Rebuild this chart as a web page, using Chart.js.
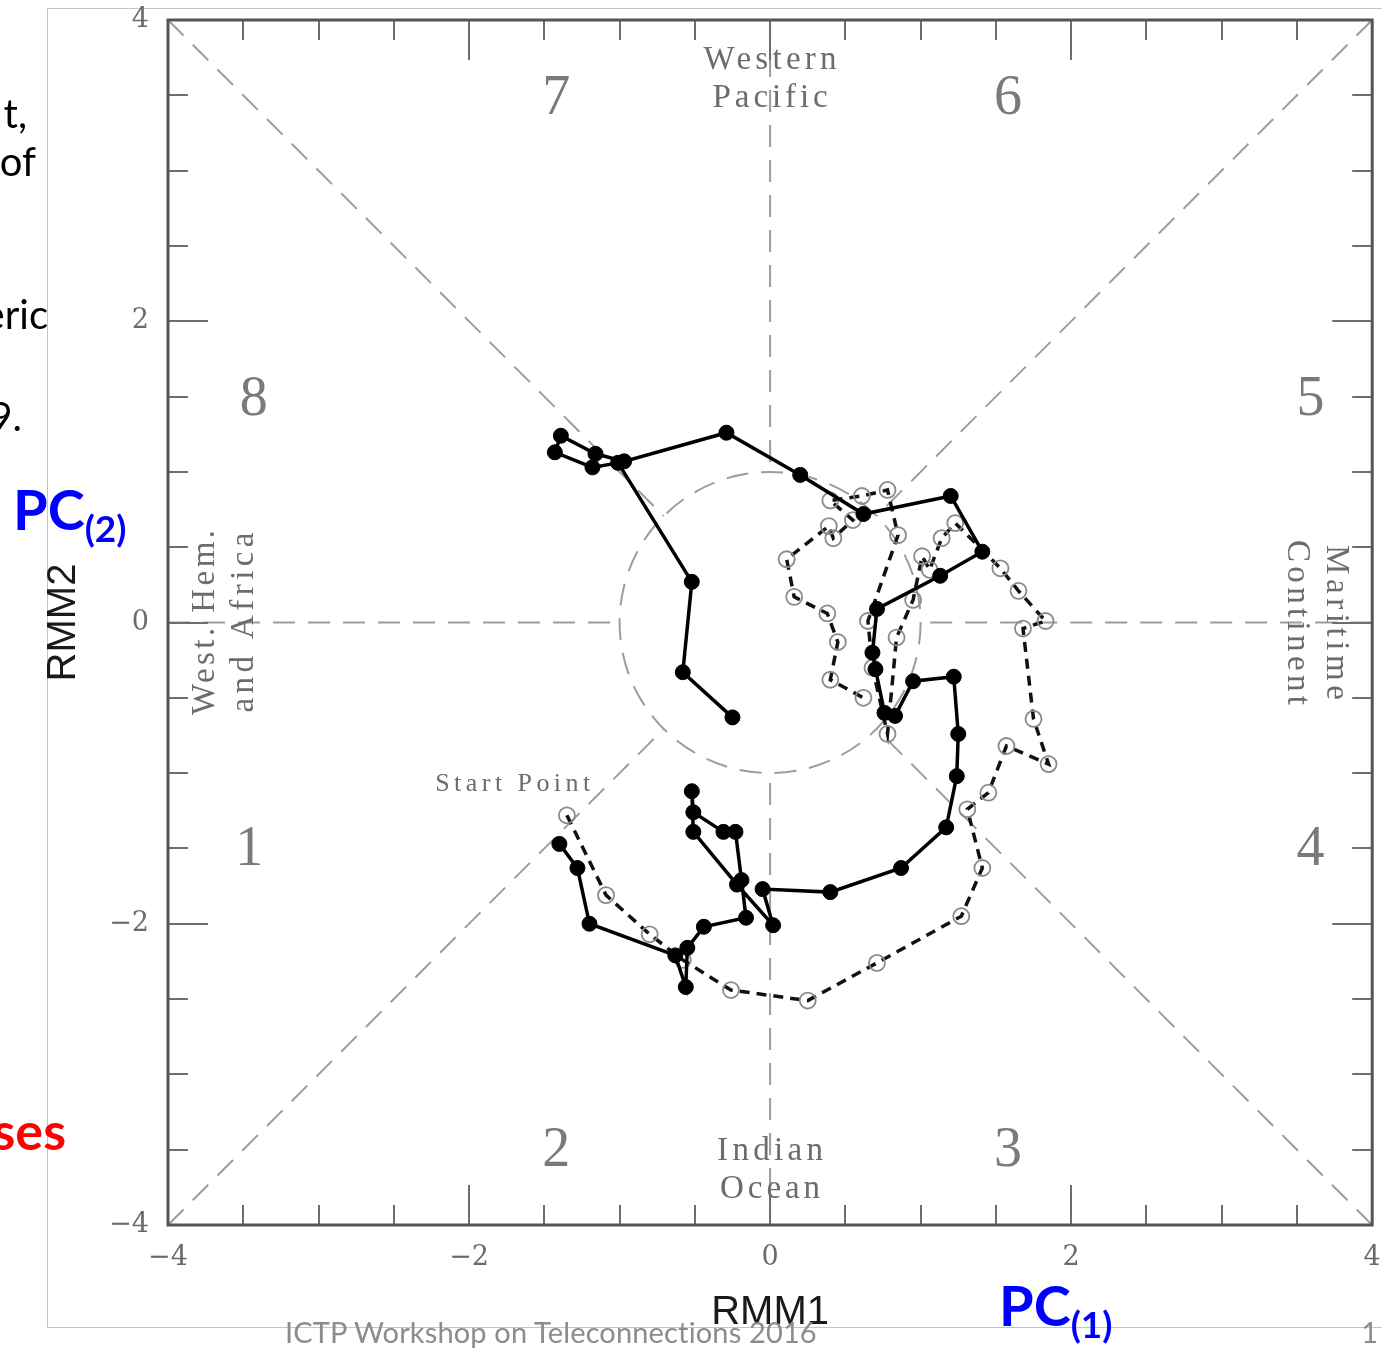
<!DOCTYPE html>
<html>
<head>
<meta charset="utf-8">
<script src="https://cdn.jsdelivr.net/npm/chart.js@4.4.1/dist/chart.umd.min.js"></script>
<style>
html,body{margin:0;padding:0;background:#fff;overflow:hidden;}
#wrap{position:relative;width:1382px;height:1350px;overflow:hidden;}
#frame{position:absolute;left:47px;top:8px;width:1400px;height:1320px;border:1px solid #c4c4c4;box-sizing:border-box;}
#c{position:absolute;left:0;top:0;}
.t{position:absolute;font-family:Lato,'Open Sans',sans-serif;white-space:nowrap;line-height:1;}
.b{font-weight:700;color:#0000ff;}
.b sub{font-size:0.66em;vertical-align:baseline;position:relative;top:0.32em;}
</style>
</head>
<body>
<div id="wrap">
  <div id="frame"></div>
  <canvas id="c" width="1382" height="1350"></canvas>
  <div class="t" style="right:1355px;top:93px;font-size:40px;color:#000;">t,</div>
  <div class="t" style="right:1346px;top:141px;font-size:40px;color:#000;">of</div>
  <div class="t" style="right:1334px;top:294px;font-size:40px;color:#000;">eric</div>
  <div class="t" style="right:1360px;top:396px;font-size:40px;color:#000;">9.</div>
  <div class="t b" style="left:13px;top:481px;font-size:56px;">PC<sub>(2)</sub></div>
  <div class="t" style="right:1316px;top:1104px;font-size:52px;color:#ff0000;font-weight:700;">ses</div>
  <div class="t b" style="left:999px;top:1277px;font-size:56px;">PC<sub>(1)</sub></div>
  <div class="t" style="left:285px;top:1317px;font-size:29px;color:#8c8c8c;letter-spacing:0.15px;">ICTP Workshop on Teleconnections 2016</div>
  <div class="t" style="right:4px;top:1317px;font-size:29px;color:#8c8c8c;">1</div>
</div>
<script>
// ---- data ----
const solidRMM1 = [-1.40,-1.28,-1.20,-0.63,-0.56,-0.55,-0.44,-0.16,-0.19,-0.23,-0.31,-0.51,-0.52,-0.51,-0.22,0.02,-0.05,0.40,0.87,1.17,1.24,1.25,1.22,0.95,0.83,0.76,0.70,0.68,0.71,1.13,1.41,1.20,0.62,0.20,-0.29,-0.97,-1.16,-1.39,-1.43,-1.18,-1.01,-0.52,-0.58,-0.25];
const solidRMM2 = [-1.47,-1.63,-2.00,-2.21,-2.42,-2.16,-2.02,-1.96,-1.71,-1.39,-1.39,-1.26,-1.12,-1.39,-1.74,-2.01,-1.77,-1.79,-1.63,-1.36,-1.02,-0.74,-0.36,-0.39,-0.62,-0.60,-0.31,-0.20,0.09,0.31,0.47,0.84,0.72,0.98,1.26,1.07,1.12,1.24,1.13,1.03,1.06,0.27,-0.33,-0.63];
const dashRMM1 = [-1.35,-1.09,-0.80,-0.58,-0.26,0.25,0.71,1.27,1.41,1.31,1.45,1.57,1.85,1.75,1.68,1.83,1.65,1.53,1.23,1.14,1.06,1.01,0.95,0.84,0.78,0.68,0.65,0.85,0.78,0.61,0.40,0.55,0.42,0.39,0.11,0.16,0.38,0.45,0.40,0.62];
const dashRMM2 = [-1.28,-1.81,-2.07,-2.24,-2.44,-2.51,-2.26,-1.95,-1.63,-1.24,-1.13,-0.82,-0.94,-0.64,-0.04,0.01,0.21,0.36,0.66,0.56,0.35,0.44,0.15,-0.10,-0.74,-0.30,0.01,0.58,0.88,0.84,0.81,0.68,0.56,0.64,0.42,0.17,0.06,-0.13,-0.38,-0.50];
const tickValues = [-4,-2,0,2,4];
const tickLabels = ['\u22124','\u22122','0','2','4'];
const phaseNames = ['1','2','3','4','5','6','7','8'];
const regionNames = [['Western','Pacific'],['Indian','Ocean'],['West. Hem.','and Africa'],['Maritime','Continent']];
const startLabel = 'Start Point';
const axisTitles = ['RMM1','RMM2'];

const toPts = (xs, ys) => xs.map((v,i)=>({x:v, y:ys[i]}));

function fitText(ctx, str, x, y, width, rot){
  ctx.save();
  ctx.translate(x,y); ctx.rotate(rot||0);
  ctx.letterSpacing = '0px';
  const w0 = ctx.measureText(str).width;
  const ls = (width - w0) / Math.max(1, str.length - 1);
  ctx.letterSpacing = ls + 'px';
  ctx.textAlign = 'left'; ctx.textBaseline = 'middle';
  ctx.fillText(str, -width/2, 0);
  ctx.restore();
}

const decor = {
  id:'decor',
  beforeDatasetsDraw(chart){
    const {ctx, scales:{x,y}} = chart;
    const px = v => x.getPixelForValue(v), py = v => y.getPixelForValue(v);
    ctx.save();
    ctx.strokeStyle = '#9c9c9c'; ctx.lineWidth = 2; ctx.setLineDash([22,13]);
    const cx = px(0), cy = py(0), r = px(1) - px(0);
    ctx.beginPath(); ctx.arc(cx, cy, r, 0, Math.PI*2); ctx.stroke();
    const d = Math.SQRT1_2;
    const spokes = [[-4,0,-1,0],[4,0,1,0],[0,4,0,1],[0,-4,0,-1],[-4,4,-d,d],[4,4,d,d],[-4,-4,-d,-d],[4,-4,d,-d]];
    spokes.forEach(s=>{ ctx.beginPath(); ctx.moveTo(px(s[0]),py(s[1])); ctx.lineTo(px(s[2]),py(s[3])); ctx.stroke(); });
    ctx.setLineDash([]);
    ctx.fillStyle = '#7a7a7a';
    ctx.font = '56px "Liberation Serif"';
    ctx.textAlign = 'center'; ctx.textBaseline = 'middle';
    const phasePos = [[-3.46,-1.5],[-1.42,-3.5],[1.58,-3.5],[3.59,-1.5],[3.59,1.49],[1.58,3.49],[-1.42,3.49],[-3.43,1.49]];
    phaseNames.forEach((p,i)=>{ ctx.fillText(p, px(phasePos[i][0]), py(phasePos[i][1])+2); });
    ctx.font = '33px "Liberation Serif"';
    ctx.fillStyle = '#6c6c6c';
    fitText(ctx, regionNames[0][0], px(0), py(3.735), 133, 0);
    fitText(ctx, regionNames[0][1], px(0), py(3.48), 115, 0);
    fitText(ctx, regionNames[1][0], px(0), py(-3.51), 106, 0);
    fitText(ctx, regionNames[1][1], px(0), py(-3.765), 100, 0);
    fitText(ctx, regionNames[2][0], px(-3.75), py(0), 185, -Math.PI/2);
    fitText(ctx, regionNames[2][1], px(-3.49), py(0), 180, -Math.PI/2);
    fitText(ctx, regionNames[3][0], px(3.76), py(0), 155, Math.PI/2);
    fitText(ctx, regionNames[3][1], px(3.50), py(0), 165, Math.PI/2);
    ctx.font = '26px "Liberation Serif"';
    fitText(ctx, startLabel, px(-1.71), py(-1.075), 155, 0);
    ctx.restore();
  },
  afterDraw(chart){
    const {ctx, chartArea:a, scales:{x,y}} = chart;
    ctx.save();
    ctx.strokeStyle = '#6e6e6e'; ctx.lineWidth = 2;
    for (let v = -3.5; v <= 3.51; v += 0.5){
      const len = (Math.abs(v % 2) < 1e-6) ? 40 : 20;
      const X = Math.round(x.getPixelForValue(v)), Y = Math.round(y.getPixelForValue(v));
      ctx.beginPath();
      ctx.moveTo(X, a.bottom); ctx.lineTo(X, a.bottom - len);
      ctx.moveTo(X, a.top); ctx.lineTo(X, a.top + len);
      ctx.moveTo(a.left, Y); ctx.lineTo(a.left + len, Y);
      ctx.moveTo(a.right, Y); ctx.lineTo(a.right - len, Y);
      ctx.stroke();
    }
    ctx.strokeStyle = '#555'; ctx.lineWidth = 3;
    ctx.strokeRect(a.left, a.top, a.right - a.left, a.bottom - a.top);
    ctx.restore();
  }
};

const tickFont = {family:'"DejaVu Serif"', size:27};
new Chart(document.getElementById('c'), {
  type:'scatter',
  data:{
    datasets:[
      { label:'solid', data:toPts(solidRMM1, solidRMM2), showLine:true,
        borderColor:'#000', borderWidth:3.5, pointRadius:7.5, pointBackgroundColor:'#000',
        pointBorderColor:'#000', pointBorderWidth:1 },
      { label:'dashed', data:toPts(dashRMM1, dashRMM2), showLine:true,
        borderColor:'#111', borderWidth:3.5, borderDash:[10,7],
        pointRadius:8, pointBackgroundColor:'rgba(255,255,255,0)', pointBorderColor:'#8a8a8a', pointBorderWidth:1.8 }
    ]
  },
  options:{
    responsive:false, animation:false, devicePixelRatio:1,
    layout:{padding:{left:0, top:20, right:9, bottom:0}},
    plugins:{legend:{display:false}, tooltip:{enabled:false}},
    scales:{
      x:{ type:'linear', min:-4, max:4, position:'bottom',
          afterFit:s=>{ s.height = 125; s.paddingLeft = 0; s.paddingRight = 0; },
          ticks:{ stepSize:2, autoSkip:false, maxRotation:0, padding:17, color:'#6a6a6a', font:tickFont,
                  callback:(v)=> tickLabels[tickValues.indexOf(v)] ?? '' },
          grid:{ display:false, drawTicks:false }, border:{ display:false },
          title:{ display:true, text:axisTitles[0], color:'#1a1a1a', font:{family:'"Liberation Sans"', size:40}, padding:{top:0,bottom:13} } },
      y:{ type:'linear', min:-4, max:4, position:'left',
          afterFit:s=>{ s.width = 168; s.paddingTop = 0; s.paddingBottom = 0; },
          ticks:{ stepSize:2, autoSkip:false, padding:19, color:'#6a6a6a', font:tickFont,
                  callback:(v)=> tickLabels[tickValues.indexOf(v)] ?? '' },
          grid:{ display:false, drawTicks:false }, border:{ display:false },
          title:{ display:true, text:axisTitles[1], color:'#1a1a1a', font:{family:'"Liberation Sans"', size:40}, padding:{top:40,bottom:0} } }
    }
  },
  plugins:[decor]
});
</script>
</body>
</html>
